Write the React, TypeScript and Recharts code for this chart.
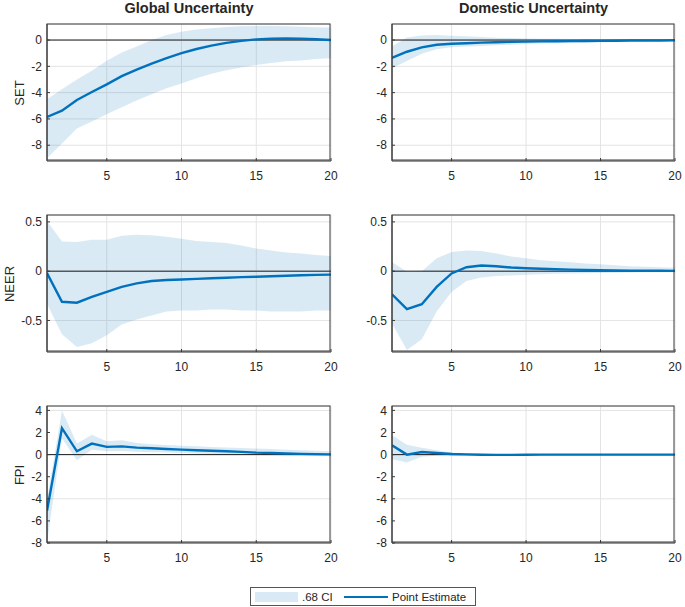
import React from "react"
import { ComposedChart, Area, Line, XAxis, YAxis, CartesianGrid, ReferenceLine } from "recharts"

const horizons = [1, 2, 3, 4, 5, 6, 7, 8, 9, 10, 11, 12, 13, 14, 15, 16, 17, 18, 19, 20]
const columnTitles = ["Global Uncertainty", "Domestic Uncertainty"]
const variables = ["SET", "NEER", "FPI"]
const xTicks = [5, 10, 15, 20]
const setTicks = [-8, -6, -4, -2, 0]
const neerTicks = [-0.5, 0, 0.5]
const fpiTicks = [-8, -6, -4, -2, 0, 2, 4]

// SET, global shock
const setGlobalMid = [-5.85, -5.37, -4.56, -3.95, -3.37, -2.75, -2.25, -1.8, -1.38, -1.0, -0.68, -0.42, -0.22, -0.06, 0.05, 0.1, 0.12, 0.1, 0.06, 0.0]
const setGlobalHi = [-4.5, -3.75, -3.0, -2.33, -1.57, -0.94, -0.5, 0.0, 0.38, 0.63, 0.8, 0.9, 1.0, 1.05, 1.06, 1.06, 1.05, 1.02, 0.98, 0.95]
const setGlobalLo = [-9.0, -7.86, -6.72, -6.2, -5.65, -5.12, -4.6, -4.13, -3.67, -3.3, -2.9, -2.57, -2.3, -2.08, -1.9, -1.75, -1.62, -1.55, -1.45, -1.38]
// SET, domestic shock
const setDomMid = [-1.35, -0.89, -0.56, -0.36, -0.28, -0.24, -0.2, -0.17, -0.14, -0.12, -0.1, -0.09, -0.08, -0.07, -0.06, -0.05, -0.04, -0.03, -0.03, -0.02]
const setDomHi = [-0.5, 0.2, 0.35, 0.38, 0.33, 0.28, 0.23, 0.18, 0.15, 0.12, 0.1, 0.09, 0.08, 0.07, 0.06, 0.05, 0.04, 0.03, 0.03, 0.02]
const setDomLo = [-2.15, -1.6, -1.05, -0.7, -0.55, -0.5, -0.45, -0.4, -0.35, -0.3, -0.27, -0.24, -0.2, -0.18, -0.16, -0.14, -0.12, -0.1, -0.09, -0.08]
// NEER, global shock
const neerGlobalMid = [-0.02, -0.31, -0.32, -0.26, -0.21, -0.16, -0.124, -0.1, -0.09, -0.084, -0.078, -0.072, -0.066, -0.06, -0.057, -0.052, -0.047, -0.042, -0.038, -0.035]
const neerGlobalHi = [0.51, 0.3, 0.295, 0.32, 0.32, 0.36, 0.37, 0.365, 0.35, 0.33, 0.305, 0.295, 0.285, 0.26, 0.23, 0.21, 0.19, 0.18, 0.165, 0.155]
const neerGlobalLo = [-0.33, -0.64, -0.77, -0.73, -0.65, -0.54, -0.49, -0.45, -0.41, -0.4, -0.4, -0.39, -0.39, -0.4, -0.4, -0.41, -0.41, -0.41, -0.4, -0.4]
// NEER, domestic shock
const neerDomMid = [-0.235, -0.385, -0.335, -0.16, -0.023, 0.04, 0.057, 0.05, 0.037, 0.03, 0.025, 0.02, 0.016, 0.013, 0.01, 0.008, 0.006, 0.005, 0.004, 0.003]
const neerDomHi = [0.094, -0.007, 0.0, 0.13, 0.195, 0.21, 0.205, 0.18, 0.15, 0.13, 0.11, 0.1, 0.09, 0.078, 0.07, 0.06, 0.05, 0.045, 0.04, 0.035]
const neerDomLo = [-0.53, -0.8, -0.69, -0.41, -0.21, -0.1, -0.064, -0.05, -0.044, -0.037, -0.03, -0.027, -0.024, -0.02, -0.018, -0.016, -0.014, -0.012, -0.01, -0.01]
// FPI, global shock
const fpiGlobalMid = [-5.08, 2.4, 0.3, 1.0, 0.7, 0.75, 0.63, 0.57, 0.51, 0.45, 0.4, 0.35, 0.3, 0.25, 0.18, 0.14, 0.1, 0.07, 0.04, 0.02]
const fpiGlobalHi = [-4.1, 4.0, 1.0, 1.8, 1.2, 1.3, 1.05, 0.93, 0.87, 0.8, 0.75, 0.7, 0.65, 0.6, 0.55, 0.5, 0.45, 0.4, 0.35, 0.3]
const fpiGlobalLo = [-7.95, 1.45, -0.5, 0.45, 0.3, 0.33, 0.27, 0.22, 0.18, 0.15, 0.1, 0.06, 0.03, 0.0, -0.03, -0.06, -0.08, -0.1, -0.12, -0.14]
// FPI, domestic shock
const fpiDomMid = [0.84, 0.0, 0.24, 0.15, 0.06, 0.02, -0.01, -0.02, -0.02, -0.01, 0, 0, 0, 0, 0, 0, 0, 0, 0, 0]
const fpiDomHi = [1.75, 0.9, 0.63, 0.4, 0.2, 0.12, 0.08, 0.05, 0.04, 0.03, 0.02, 0.02, 0.02, 0.02, 0.02, 0.02, 0.02, 0.02, 0.02, 0.02]
const fpiDomLo = [-0.42, -0.72, -0.2, -0.1, -0.08, -0.1, -0.1, -0.09, -0.08, -0.06, -0.05, -0.04, -0.04, -0.04, -0.04, -0.04, -0.04, -0.04, -0.04, -0.04]

const build = (mid: number[], lo: number[], hi: number[]) =>
  horizons.map((h, i) => ({ h, mid: mid[i], band: [lo[i], hi[i]] }))

const rows = [
  { ticks: setTicks, domain: [-9.2, 1.22], panels: [build(setGlobalMid, setGlobalLo, setGlobalHi), build(setDomMid, setDomLo, setDomHi)] },
  { ticks: neerTicks, domain: [-0.82, 0.57], panels: [build(neerGlobalMid, neerGlobalLo, neerGlobalHi), build(neerDomMid, neerDomLo, neerDomHi)] },
  { ticks: fpiTicks, domain: [-8, 4.4], panels: [build(fpiGlobalMid, fpiGlobalLo, fpiGlobalHi), build(fpiDomMid, fpiDomLo, fpiDomHi)] },
]

const FONT = '"Liberation Sans", Arial, Helvetica, sans-serif'
const BLUE = "#0072BD"
const AXIS = "#3a3a3a"
const colLeft = [47, 392]
const colWidth = [284, 283]
const rowTop = [24, 215, 406]
const plotH = 137
const labelX = [18.5, 8.5, 18.5]

const YW = 45
const MT = 6
const MR = 8
const XH = 24

function Panel({ left, top, width, data, domain, ticks }: any) {
  const tickStyle = { fill: "#262626", fontSize: 12, fontFamily: FONT }
  return (
    <div style={{ position: "absolute", left: left - YW, top: top - MT }}>
      <ComposedChart
        width={YW + width + MR}
        height={MT + plotH + XH}
        data={data}
        margin={{ top: MT, right: MR, left: 0, bottom: 0 }}
      >
        <CartesianGrid stroke="#e4e4e4" strokeWidth={1} />
        <XAxis
          dataKey="h"
          type="number"
          domain={[1, 20]}
          ticks={xTicks}
          allowDataOverflow
          height={XH}
          tickSize={-3}
          tickMargin={13}
          axisLine={{ stroke: AXIS }}
          tickLine={{ stroke: AXIS }}
          tick={tickStyle}
        />
        <YAxis
          type="number"
          domain={domain}
          ticks={ticks}
          allowDataOverflow
          width={YW}
          tickSize={-3}
          tickMargin={8}
          axisLine={{ stroke: AXIS }}
          tickLine={{ stroke: AXIS }}
          tick={tickStyle}
        />
        <Area
          dataKey="band"
          type="linear"
          stroke="none"
          fill={BLUE}
          fillOpacity={0.15}
          dot={false}
          activeDot={false}
          isAnimationActive={false}
        />
        <ReferenceLine y={0} stroke="#1a1a1a" strokeWidth={1} />
        <Line
          dataKey="mid"
          type="linear"
          stroke={BLUE}
          strokeWidth={2.4}
          dot={false}
          activeDot={false}
          isAnimationActive={false}
        />
      </ComposedChart>
      {/* box around the plot area, as in the original figure */}
      <div
        style={{
          position: "absolute",
          left: YW,
          top: MT,
          width: width,
          height: plotH,
          border: "1px solid " + AXIS,
          boxSizing: "border-box",
          pointerEvents: "none",
          transform: "translate(-0.5px, -0.5px)",
        }}
      />
    </div>
  )
}

export default function App() {
  return (
    <div
      style={{
        position: "absolute",
        left: 0,
        top: 0,
        width: 685,
        height: 607,
        background: "#fff",
        fontFamily: FONT,
        color: "#262626",
      }}
    >
      {columnTitles.map((t, c) => (
        <div
          key={t}
          style={{
            position: "absolute",
            left: colLeft[c],
            width: colWidth[c],
            top: 0,
            textAlign: "center",
            fontWeight: "bold",
            fontSize: 14.5,
            lineHeight: "16px",
          }}
        >
          {t}
        </div>
      ))}
      {variables.map((v, r) => (
        <div
          key={v}
          style={{
            position: "absolute",
            left: labelX[r],
            top: rowTop[r] + plotH / 2,
            transform: "translate(-50%, -50%) rotate(-90deg)",
            fontSize: 13,
            whiteSpace: "nowrap",
          }}
        >
          {v}
        </div>
      ))}
      {rows.map((row, r) =>
        row.panels.map((data, c) => (
          <Panel
            key={r + "-" + c}
            left={colLeft[c]}
            top={rowTop[r]}
            width={colWidth[c]}
            data={data}
            domain={row.domain}
            ticks={row.ticks}
          />
        ))
      )}
      <div
        style={{
          position: "absolute",
          left: 250,
          top: 587,
          width: 226,
          height: 19,
          border: "1px solid #555",
          boxSizing: "border-box",
          fontSize: 11.5,
        }}
      >
        <div style={{ position: "absolute", left: 4, top: 4, width: 43, height: 10, background: "#d9e9f5" }} />
        <div style={{ position: "absolute", left: 51, top: 2, lineHeight: "14px" }}>.68 CI</div>
        <div style={{ position: "absolute", left: 93, top: 8, width: 44, height: 2, background: BLUE }} />
        <div style={{ position: "absolute", left: 141, top: 2, lineHeight: "14px" }}>Point Estimate</div>
      </div>
    </div>
  )
}
